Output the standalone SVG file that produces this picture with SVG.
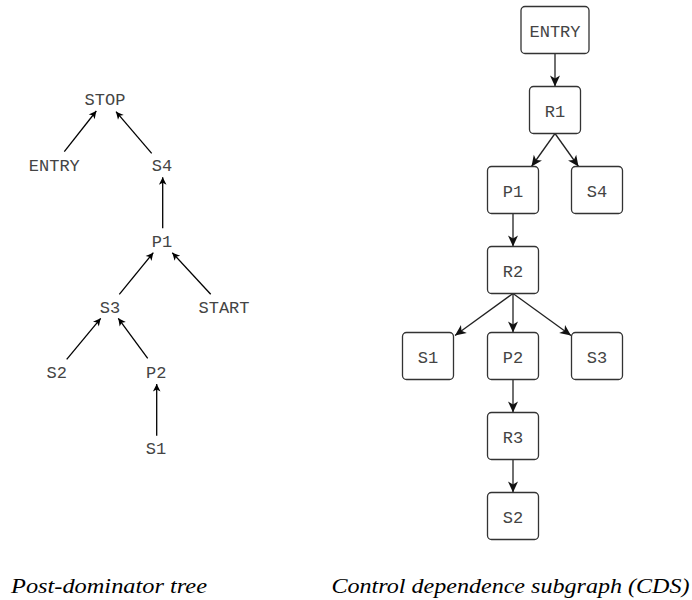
<svg xmlns="http://www.w3.org/2000/svg" width="692" height="600" viewBox="0 0 692 600">
  <style>
    .lt { font-family: "Liberation Mono", "Courier New", monospace; font-size: 17px; fill: #444; text-anchor: middle; }
    .box { fill: #fff; stroke: #333; stroke-width: 1.3; }
    .ledge { stroke: #000; stroke-width: 1.3; fill: none; marker-end: url(#la); }
    .redge { stroke: #222; stroke-width: 1.3; fill: none; marker-end: url(#ra); }
    .cap { font-family: "Liberation Serif", "Times New Roman", serif; font-style: italic; font-size: 20px; fill: #000; }
  </style>
  <defs>
    <marker id="la" markerUnits="userSpaceOnUse" viewBox="-8 -5 9 10" refX="0" refY="0" markerWidth="9" markerHeight="10" orient="auto">
      <path d="M0,0 L-7.5,-3.8 L-5.5,0 L-7.5,3.8 Z" fill="#000"/>
    </marker>
    <marker id="ra" markerUnits="userSpaceOnUse" viewBox="-12 -6 13 12" refX="0" refY="0" markerWidth="13" markerHeight="12" orient="auto">
      <path d="M0,0 L-11,-5 L-8,0 L-11,5 Z" fill="#111"/>
    </marker>
  </defs>

  <g id="left-connectors">
    <line class="ledge" x1="64.3" y1="151.7" x2="96.3" y2="111"/>
    <line class="ledge" x1="151.7" y1="153.3" x2="116" y2="111.7"/>
    <line class="ledge" x1="162.7" y1="228.3" x2="162.7" y2="177.3"/>
    <line class="ledge" x1="119.3" y1="294.3" x2="153.3" y2="252.7"/>
    <line class="ledge" x1="210.7" y1="294.3" x2="172.3" y2="252.7"/>
    <line class="ledge" x1="66.7" y1="359.3" x2="100.7" y2="318.3"/>
    <line class="ledge" x1="147.7" y1="358.3" x2="118.3" y2="318.3"/>
    <line class="ledge" x1="156.7" y1="435.7" x2="156.7" y2="384"/>
  </g>

  <g id="pdt-STOP"><text class="lt" x="105" y="105">STOP</text></g>
  <g id="pdt-ENTRY"><text class="lt" x="54.3" y="170.5">ENTRY</text></g>
  <g id="pdt-S4"><text class="lt" x="162" y="170.5">S4</text></g>
  <g id="pdt-P1"><text class="lt" x="162" y="247">P1</text></g>
  <g id="pdt-S3"><text class="lt" x="110" y="312.7">S3</text></g>
  <g id="pdt-START"><text class="lt" x="224" y="312.7">START</text></g>
  <g id="pdt-S2"><text class="lt" x="56.7" y="377.7">S2</text></g>
  <g id="pdt-P2"><text class="lt" x="156.3" y="377.7">P2</text></g>
  <g id="pdt-S1"><text class="lt" x="156" y="454">S1</text></g>

  <g id="right-connectors">
    <line class="redge" x1="555" y1="53.5" x2="555" y2="86.5"/>
    <line class="redge" x1="555" y1="133.5" x2="531.5" y2="166.5"/>
    <line class="redge" x1="555" y1="133.5" x2="578.5" y2="166.5"/>
    <line class="redge" x1="513" y1="213.5" x2="513" y2="246.5"/>
    <line class="redge" x1="513" y1="293.5" x2="455" y2="335.5"/>
    <line class="redge" x1="513" y1="293.5" x2="513" y2="332.5"/>
    <line class="redge" x1="513" y1="293.5" x2="571" y2="335.5"/>
    <line class="redge" x1="513" y1="379.5" x2="513" y2="412.5"/>
    <line class="redge" x1="513" y1="459.5" x2="513" y2="492.5"/>
  </g>

  <g id="cds-ENTRY"><rect class="box" x="521" y="6.5" width="68" height="47" rx="4"/><text class="lt" x="555" y="36.5">ENTRY</text></g>
  <g id="cds-R1"><rect class="box" x="529.5" y="86.5" width="51" height="47" rx="4"/><text class="lt" x="555" y="116.5">R1</text></g>
  <g id="cds-P1"><rect class="box" x="487.5" y="166.5" width="51" height="47" rx="4"/><text class="lt" x="513" y="196.5">P1</text></g>
  <g id="cds-S4"><rect class="box" x="571.5" y="166.5" width="51" height="47" rx="4"/><text class="lt" x="597" y="196.5">S4</text></g>
  <g id="cds-R2"><rect class="box" x="487.5" y="246.5" width="51" height="47" rx="4"/><text class="lt" x="513" y="276.5">R2</text></g>
  <g id="cds-S1"><rect class="box" x="402.5" y="332.5" width="51" height="47" rx="4"/><text class="lt" x="428" y="362.5">S1</text></g>
  <g id="cds-P2"><rect class="box" x="487.5" y="332.5" width="51" height="47" rx="4"/><text class="lt" x="513" y="362.5">P2</text></g>
  <g id="cds-S3"><rect class="box" x="571.5" y="332.5" width="51" height="47" rx="4"/><text class="lt" x="597" y="362.5">S3</text></g>
  <g id="cds-R3"><rect class="box" x="487.5" y="412.5" width="51" height="47" rx="4"/><text class="lt" x="513" y="442.5">R3</text></g>
  <g id="cds-S2"><rect class="box" x="487.5" y="492.5" width="51" height="47" rx="4"/><text class="lt" x="513" y="522.5">S2</text></g>

  <g id="captions">
    <text class="cap" x="11" y="593" textLength="196" lengthAdjust="spacingAndGlyphs">Post-dominator tree</text>
    <text class="cap" x="331.5" y="593" textLength="358" lengthAdjust="spacingAndGlyphs">Control dependence subgraph (CDS)</text>
  </g>
</svg>
